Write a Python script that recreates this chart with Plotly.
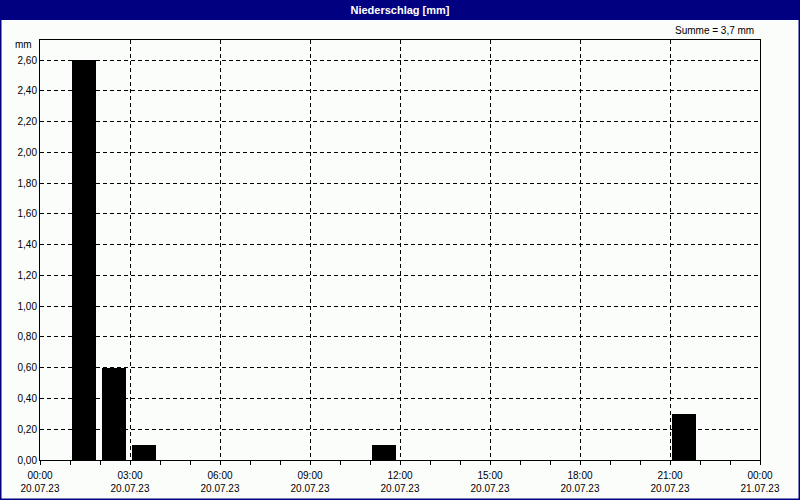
import plotly.graph_objects as go

# Data: hourly precipitation (interval start), mm
times = ["2023-07-20 01:00", "2023-07-20 02:00", "2023-07-20 03:00",
         "2023-07-20 11:00", "2023-07-20 21:00"]
values = [2.6, 0.6, 0.1, 0.1, 0.3]
title_text = "Niederschlag [mm]"
sum_text = "Summe = 3,7 mm"
y_unit = "mm"
y_ticks = [0.0, 0.2, 0.4, 0.6, 0.8, 1.0, 1.2, 1.4, 1.6, 1.8, 2.0, 2.2, 2.4, 2.6]

W, H = 800, 500
L, R, T, B = 40, 40, 40, 40
pw, ph = W - L - R, H - T - B

def px_x(px):
    return (px - L) / pw

def px_y(py):
    return (H - B - py) / ph

HOUR = 3600000
NAVY = "#000080"
BG = "#FBFDFB"
FONT = "Liberation Sans, Arial, sans-serif"

fig = go.Figure()
fig.add_trace(go.Bar(
    x=times, y=values,
    offset=HOUR * 0.067, width=HOUR * 0.8,
    marker=dict(color="black", line=dict(width=0)),
    hoverinfo="x+y",
))

fig.update_layout(
    width=W, height=H,
    margin=dict(l=L, r=R, t=T, b=B, autoexpand=False),
    paper_bgcolor=BG, plot_bgcolor=BG,
    separators=",.",
    showlegend=False,
    bargap=0,
    font=dict(family=FONT, size=10, color="black"),
    title=dict(text="<b>" + title_text + "</b>", x=0.5, xanchor="center",
               y=1 - 10 / H, yanchor="middle", yref="container",
               font=dict(family="Liberation Sans Narrow, Liberation Sans, Arial", size=11, color="white")),
    xaxis=dict(
        type="date", automargin=False,
        range=["2023-07-20 00:00", "2023-07-21 00:00"],
        dtick=3 * HOUR, tick0="2023-07-20 00:00",
        tickformat="%H:%M<br>%d.%m.%y",
        ticks="outside", ticklen=4, tickcolor="black",
        ticklabelstandoff=2,
        minor=dict(dtick=HOUR, ticks="outside", ticklen=4, tickcolor="black", showgrid=False),
        showgrid=True, gridcolor="black", gridwidth=1, griddash="4px,3px",
        showline=True, linecolor="black", linewidth=1, mirror=True,
        zeroline=False,
        tickfont=dict(family=FONT, size=10),
    ),
    yaxis=dict(
        automargin=False,
        range=[0, 2.6 * ph / 400],
        tickvals=y_ticks, tickformat=".2f",
        ticks="", ticklen=0,
        showgrid=True, gridcolor="black", gridwidth=1, griddash="4px,3px",
        showline=True, linecolor="black", linewidth=1, mirror=True,
        zeroline=False,
        tickfont=dict(family=FONT, size=10),
    ),
    shapes=[
        dict(type="rect", xref="paper", yref="paper",
             x0=px_x(0), x1=px_x(W), y0=px_y(0), y1=px_y(20),
             fillcolor=NAVY, line=dict(width=0), layer="below"),
        dict(type="rect", xref="paper", yref="paper",
             x0=px_x(0.5), x1=px_x(W - 0.5), y0=px_y(0.5), y1=px_y(H - 0.5),
             fillcolor="rgba(0,0,0,0)", line=dict(color=NAVY, width=2)),
    ],
    annotations=[
        dict(text=y_unit, xref="paper", yref="paper", x=0, y=px_y(45),
             xanchor="right", yanchor="middle", xshift=-6, showarrow=False,
             font=dict(family=FONT, size=10)),
        dict(text=sum_text, xref="paper", yref="paper", x=px_x(756), y=px_y(30),
             xanchor="right", yanchor="middle", showarrow=False,
             font=dict(family=FONT, size=10)),
    ],
)

fig.write_html("out.html", config={"displayModeBar": False},
               post_script="document.body.style.margin='0';")
